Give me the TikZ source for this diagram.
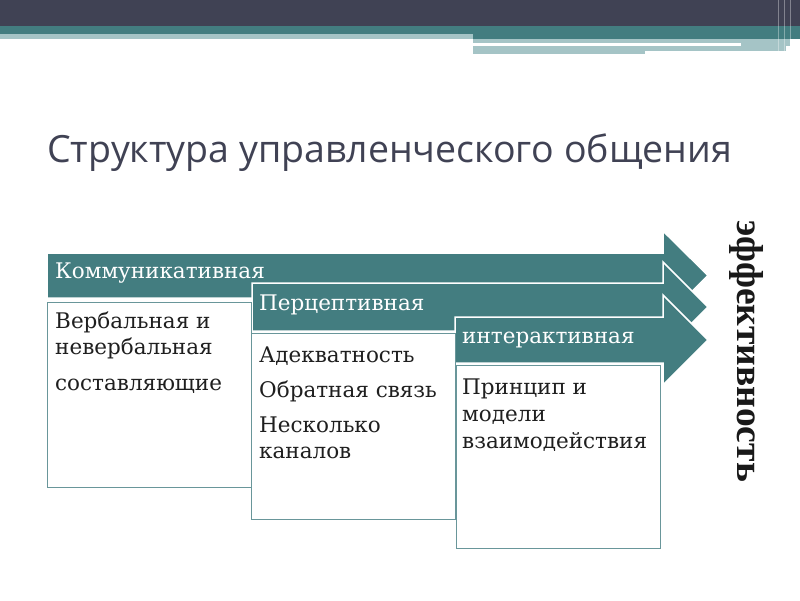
\documentclass[tikz,border=0pt]{standalone}
\usepackage{fontspec}
\setmainfont{DejaVu Serif}
\newfontfamily\titlefont{Open Sans}
\newfontfamily\effectfont{Liberation Serif}
\usetikzlibrary{positioning}

\definecolor{slatebar}{RGB}{64,66,84}
\definecolor{tealfill}{RGB}{67,125,128}
\definecolor{tealpale}{RGB}{165,196,198}
\definecolor{boxedge}{RGB}{105,150,154}

\begin{document}
\begin{tikzpicture}[
        x=1pt, y=-1pt,
        head/.style={fill=tealfill, draw=white, line width=1.5pt, line join=miter},
        headtext/.style={anchor=base west, inner sep=0, text=white, font=\fontsize{21.5}{26}\selectfont},
        card/.style={draw=boxedge, line width=1.4pt, fill=white, anchor=north west, inner sep=0, minimum width=204pt},
        bodytext/.style={anchor=base west, inner sep=0, text=black!88, font=\fontsize{21.5}{26}\selectfont}
    ]
        \useasboundingbox[fill=white] (0,0) rectangle (800,600);

        % Top bars
        \fill[slatebar] (0,0) rectangle (800,26);
        \fill[tealfill] (0,26) rectangle (800,34);
        \fill[tealpale] (0,34) rectangle (473,39);
        \fill[tealfill] (473,34) rectangle (800,39);
        \fill[tealpale] (473,39) rectangle (790,46);
        \fill[white] (473,43) rectangle (741,46);
        \fill[tealpale] (473,46) rectangle (645,54);
        \fill[tealpale] (645,46) rectangle (786,51);
        \foreach \xx in {778,784,790}
            \draw[white, opacity=0.35, line width=1pt] (\xx,0) -- (\xx,54);

        % Title
        \node[anchor=base west, inner sep=0, text=slatebar, font=\titlefont\fontsize{37.5}{44}\selectfont] (title) at (47,162) {Структура управленческого общения};

        % Header arrows
        \draw[head] (47,253) -- (663,253) -- (663,231) -- (708,275.5) -- (663,320) -- (663,298) -- (47,298) -- cycle;
        \draw[head] (252,283) -- (663,283) -- (663,262) -- (708,307) -- (663,352) -- (663,331) -- (252,331) -- cycle;
        \draw[head] (455,317) -- (663,317) -- (663,295) -- (708,340) -- (663,385) -- (663,363) -- (455,363) -- cycle;
        \node[headtext] (comm) at (55,278) {Коммуникативная};
        \node[headtext] (perc) at (259,310) {Перцептивная};
        \node[headtext] (inter) at (462,343) {интерактивная};

        % Content boxes
        \node[card, minimum height=185pt] (commbox) at (47,302) {};
        \node[card, minimum height=186pt] (percbox) at (251,333) {};
        \node[card, minimum height=183pt] (interbox) at (456,365) {};

        \foreach \txt/\yy [count=\i] in {Вербальная и/328, невербальная/354, составляющие/390}
            \node[bodytext] (comml\i) at (55,\yy) {\txt};
        \foreach \txt/\yy [count=\i] in {Адекватность/362, Обратная связь/397, Несколько/432, каналов/458}
            \node[bodytext] (percl\i) at (259,\yy) {\txt};
        \foreach \txt/\yy [count=\i] in {Принцип и/394, модели/421, взаимодействия/448}
            \node[bodytext] (interl\i) at (462,\yy) {\txt};

        % Result
        \node[rotate=-90, anchor=base west, inner sep=0, text=black!90, font=\effectfont\bfseries\fontsize{37.5}{44}\selectfont] (effect) at (737,220) {эффективность};
    \end{tikzpicture}
\end{document}
